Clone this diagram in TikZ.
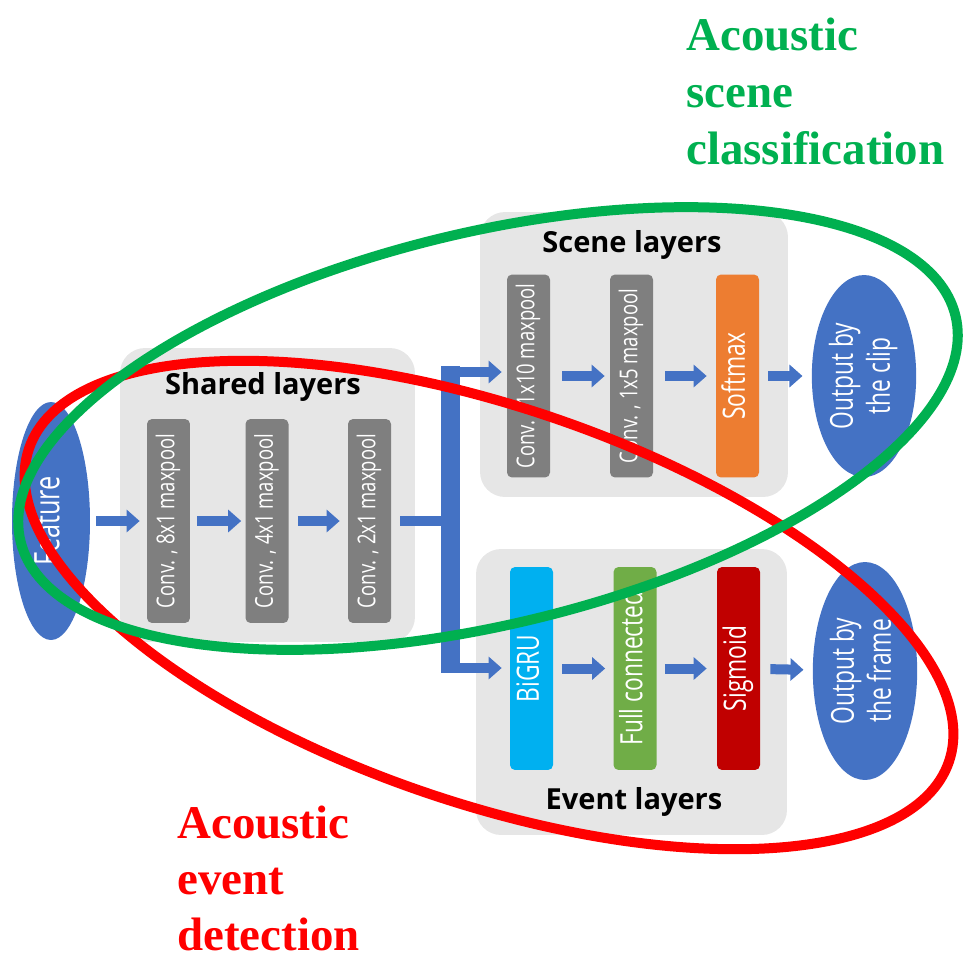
\documentclass[tikz,border=0pt]{standalone}
\usepackage{fontspec}
\setmainfont{Open Sans}
\newfontfamily\titlefont{Liberation Serif}
\usepackage{graphicx}
\usetikzlibrary{shapes.geometric,arrows.meta}

\definecolor{panelgray}{HTML}{E6E6E6}
\definecolor{convgray}{HTML}{7F7F7F}
\definecolor{flowblue}{HTML}{4472C4}
\definecolor{softorange}{HTML}{ED7D31}
\definecolor{grucyan}{HTML}{00B0F0}
\definecolor{fcgreen}{HTML}{70AD47}
\definecolor{sigred}{HTML}{C00000}
\definecolor{scenegreen}{HTML}{00B050}
\definecolor{eventred}{HTML}{FF0000}

% upright (bottom-to-top) white label, narrowed along the reading direction
\newcommand{\uptext}[4]{\rotatebox{90}{\scalebox{#1}[1]{\fontsize{#2}{#3}\selectfont\begin{tabular}{@{}c@{}}#4\end{tabular}}}}

\begin{document}
\begin{tikzpicture}[x=0.02cm,y=-0.02cm,
  panel/.style={fill=panelgray, rounded corners=0.5cm, inner sep=0pt},
  paneltitle/.style={font=\bfseries\fontsize{16.5pt}{20pt}\selectfont, text=black, inner sep=0pt},
  layerbox/.style={rounded corners=0.1cm, inner sep=0pt, minimum width=0.86cm, minimum height=4.06cm, text=white},
  blob/.style={ellipse, fill=flowblue, inner sep=0pt, text=white},
  flow/.style={draw=flowblue, line width=0.2cm, -{Triangle[length=0.26cm,width=0.44cm]}},
  trunk/.style={draw=flowblue, line width=0.2cm},
  taskring/.style={line width=0.2cm},
  tasktitle/.style={font=\titlefont\bfseries\fontsize{26.7pt}{32pt}\selectfont, inner sep=0pt, anchor=base west}]

\useasboundingbox (0,0) rectangle (963,961);

% grey panels
\node[panel, minimum width=5.9cm, minimum height=5.88cm] (shared) at (267.5,495) {};
\node[panel, minimum width=6.16cm, minimum height=5.7cm] (scene) at (634,354.5) {};
\node[panel, minimum width=6.22cm, minimum height=5.72cm] (event) at (631.5,692) {};

\node[paneltitle] (sharedtitle) at (263,387) {Shared layers};
\node[paneltitle] (scenetitle) at (632,245) {Scene layers};
\node[paneltitle] (eventtitle) at (634,802) {Event layers};

% shared convolution blocks
\node[layerbox, fill=convgray, minimum height=4.08cm] (s1) at (168.5,521) {\uptext{0.75}{14pt}{17pt}{Conv. , 8x1 maxpool}};
\node[layerbox, fill=convgray, minimum height=4.08cm] (s2) at (267,521) {\uptext{0.75}{14pt}{17pt}{Conv. , 4x1 maxpool}};
\node[layerbox, fill=convgray, minimum height=4.08cm] (s3) at (369.5,521) {\uptext{0.75}{14pt}{17pt}{Conv. , 2x1 maxpool}};

% scene branch
\node[layerbox, fill=convgray] (c1) at (528.5,376) {\uptext{0.75}{14pt}{17pt}{Conv. , 1x10 maxpool}};
\node[layerbox, fill=convgray] (c2) at (631.5,376) {\uptext{0.75}{14pt}{17pt}{Conv. , 1x5 maxpool}};
\node[layerbox, fill=softorange] (soft) at (737.5,376) {\uptext{0.74}{17.5pt}{21pt}{Softmax}};

% event branch
\node[layerbox, fill=grucyan] (gru) at (531.5,668.5) {\uptext{0.74}{17.5pt}{21pt}{BiGRU}};
\node[layerbox, fill=fcgreen] (fc) at (635,668.5) {\uptext{0.74}{17.5pt}{21pt}{Full connected}};
\node[layerbox, fill=sigred] (sig) at (738.5,668.5) {\uptext{0.74}{17.5pt}{21pt}{Sigmoid}};

% input and outputs
\node[blob, minimum width=1.56cm, minimum height=4.76cm] (feat) at (51,521) {\uptext{0.72}{20pt}{24pt}{Feature}};
\node[blob, minimum width=1.76cm, minimum height=4.04cm] (clip) at (864,376) {\uptext{0.72}{18pt}{21pt}{Output by\\the clip}};
\node[blob, minimum width=1.72cm, minimum height=4.36cm] (frame) at (865,671) {\uptext{0.72}{18pt}{21pt}{Output by\\the frame}};

% shared path
\draw[flow, shorten <=0.12cm, shorten >=0.14cm] (feat) -- (s1);
\draw[flow, shorten <=0.14cm, shorten >=0.08cm] (s1) -- (s2);
\draw[flow, shorten <=0.18cm, shorten >=0.16cm] (s2) -- (s3);

% split into the two branches
\coordinate (split) at (450,521);
\coordinate (bustop) at (450.5,366);
\coordinate (busbot) at (450.5,673);
\coordinate (toscene) at (450,372);
\coordinate (toevent) at (450,668);
\draw[trunk, shorten <=0.18cm] (s3) -- (split);
\draw[draw=flowblue, line width=0.38cm] (bustop) -- (busbot);
\draw[flow, shorten >=0.1cm] (toscene) -- (toscene -| c1.west);
\draw[flow, shorten >=0.16cm] (toevent) -- (toevent -| gru.west);

% scene flow
\draw[flow, shorten <=0.24cm, shorten >=0.1cm] (c1) -- (c2);
\draw[flow, shorten <=0.24cm, shorten >=0.18cm] (c2) -- (soft);
\draw[flow, shorten <=0.18cm, shorten >=0.18cm] (soft) -- (clip);

% event flow
\draw[flow, shorten <=0.18cm, shorten >=0.16cm] (gru) -- (fc);
\draw[flow, shorten <=0.16cm, shorten >=0.2cm] (fc) -- (sig);
\draw[flow, shorten <=0.2cm, shorten >=0.18cm] (sig) -- (frame);

% task outlines
\draw[taskring, eventred, rotate around={-18.8:(489,605)}] (489,605) ellipse [x radius=9.72cm, y radius=3.96cm];
\draw[taskring, scenegreen, rotate around={13.55:(488,428.5)}] (488,428.5) ellipse [x radius=9.62cm, y radius=3.92cm];

% task titles
\node[tasktitle, text=scenegreen] (asc1) at (686,50) {Acoustic};
\node[tasktitle, text=scenegreen] (asc2) at (686,107) {scene};
\node[tasktitle, text=scenegreen] (asc3) at (686,164) {classification};
\node[tasktitle, text=eventred] (aed1) at (177,838) {Acoustic};
\node[tasktitle, text=eventred] (aed2) at (177,894) {event};
\node[tasktitle, text=eventred] (aed3) at (177,950) {detection};
\end{tikzpicture}
\end{document}
